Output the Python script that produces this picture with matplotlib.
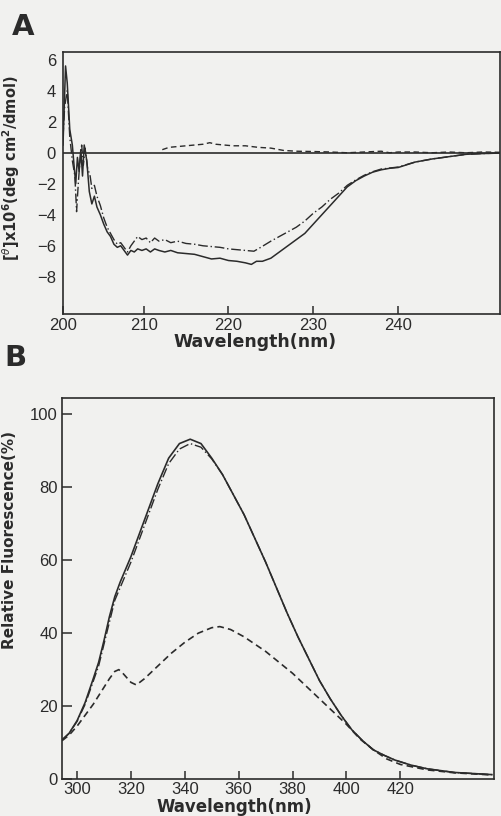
import matplotlib
matplotlib.use('Agg')
import matplotlib.pyplot as plt

# ---- panel A : CD spectra ----
cd_solid_x = [200.5, 200.8, 201.0, 201.3, 201.6, 201.8, 202.0, 202.2, 202.4, 202.6, 202.8, 203.0,
              203.3, 203.6, 203.9, 204.2, 204.5, 204.9, 205.3, 205.7, 206.1, 206.5, 206.9, 207.3,
              207.7, 208.1, 208.5, 208.9, 209.3, 209.8, 210.3, 210.8, 211.3, 211.8, 212.5, 213.2,
              214, 215, 216, 217, 218, 219, 220, 221, 222, 222.7, 223.3, 224, 225, 226, 227, 228,
              229, 230, 231, 232, 233, 234, 235, 236, 237, 238, 239, 240, 242, 244, 246, 248, 250, 252]
cd_solid_y = [0.5, 5.6, 4.5, 1.5, 0.5, -0.8, -2.0, -0.3, -1.2, 0.2, -1.5, 0.5,
              -0.5, -2.5, -3.3, -2.8, -3.5, -4.0, -4.6, -5.1, -5.4, -5.9, -6.1, -6.0,
              -6.3, -6.6, -6.3, -6.4, -6.2, -6.3, -6.2, -6.4, -6.2, -6.3, -6.4, -6.3,
              -6.45, -6.5, -6.55, -6.7, -6.85, -6.8, -6.95, -7.0, -7.1, -7.2, -7.0, -7.0, -6.8, -6.4, -6.0, -5.6,
              -5.2, -4.6, -4.0, -3.4, -2.8, -2.2, -1.8, -1.5, -1.25, -1.1, -1.0, -0.95, -0.6, -0.4, -0.25, -0.1, -0.05, -0.02]

cd_dashdot_x = [200.5, 200.7, 201.0, 201.3, 201.6, 201.9, 202.1, 202.3, 202.5, 202.7, 202.9, 203.1,
                203.4, 203.7, 203.9, 204.2, 204.5, 204.9, 205.3, 205.7, 206.1, 206.5, 206.9, 207.3,
                207.7, 208.1, 208.5, 208.9, 209.3, 209.8, 210.3, 210.8, 211.3, 211.8, 212.5, 213.2,
                214, 215, 216, 217, 218, 219, 220, 221, 222, 223, 223.8, 225, 226, 227, 228,
                229, 230, 231, 232, 233, 234, 235, 236, 237, 238, 240, 242, 244, 246, 248, 250, 252]
cd_dashdot_y = [1.0, 3.0, 4.0, 1.0, -0.5, -1.5, -3.8, -2.0, -0.5, 0.5, -0.8, 0.3,
                -1.0, -1.5, -2.3, -2.1, -2.8, -3.4, -4.2, -4.8, -5.2, -5.6, -5.9, -5.8,
                -6.1, -6.4, -6.0, -5.7, -5.4, -5.6, -5.5, -5.8, -5.5, -5.7, -5.6, -5.8,
                -5.7, -5.85, -5.9, -6.0, -6.05, -6.1, -6.2, -6.25, -6.3, -6.35, -6.1, -5.7, -5.4, -5.1, -4.8,
                -4.4, -3.9, -3.5, -3.0, -2.6, -2.1, -1.75, -1.45, -1.22, -1.05, -0.92, -0.6, -0.4, -0.25, -0.1, -0.05, -0.02]

cd_dashed_x = [212.2, 213, 214, 215, 216, 217, 217.8, 218.5, 219.5, 220.5, 222, 223.5, 225, 226.5,
               228, 230, 232, 234, 236, 238, 239, 240, 242, 244, 246, 248, 250, 252]
cd_dashed_y = [0.2, 0.35, 0.4, 0.45, 0.5, 0.55, 0.65, 0.55, 0.5, 0.45, 0.45, 0.35, 0.3, 0.15,
               0.1, 0.08, 0.05, 0.0, 0.05, 0.1, 0.0, 0.05, 0.05, 0.0, 0.05, 0.0, 0.05, 0.03]

cd_xticks = [200.5, 210, 220, 230, 240]
cd_xticklabels = ['200', '210', '220', '230', '240']
cd_yticks = [6, 4, 2, 0, -2, -4, -6, -8]

# ---- panel B : fluorescence ----
fl_x = [294.4, 297, 300, 303, 306, 308, 310, 312, 314, 316, 320, 325, 330, 334, 338, 342, 346, 350,
        354, 358, 362, 366, 370, 374, 378, 382, 386, 390, 394, 398, 402, 406, 410, 414, 418, 424,
        430, 440, 454]
fl_solid = [10.7, 12.5, 16, 21, 27.5, 32, 38, 44.5, 50, 54, 61, 71, 81, 88, 92, 93.2, 92, 88,
            83.5, 78, 72.5, 66, 59.5, 52.5, 45.5, 39, 33, 27, 22, 17.5, 13.5, 10.5, 8, 6.5, 5.2, 3.8,
            2.8, 1.8, 1.2]
fl_dashdot = [10.7, 12.5, 15.8, 20.5, 26.8, 31, 37, 43, 49, 52.5, 59.5, 69.5, 79.5, 86.5, 90.5, 92, 91, 87.8,
              83.5, 78, 72.5, 66, 59.5, 52.5, 45.5, 39, 33, 27, 22, 17.5, 13.5, 10.5, 8, 6.5, 5.2, 3.8,
              2.8, 1.8, 1.2]

fl_dashed_x = [294.4, 297, 300, 303, 306, 309, 312, 314, 315.5, 317, 320, 322, 325, 330, 335, 340, 345,
               350, 353, 357, 362, 366, 370, 375, 380, 385, 390, 395, 400, 405, 410, 415, 420, 430, 440, 454]
fl_dashed = [10.5, 12, 14.5, 17.5, 20.5, 24, 27.5, 29.5, 30, 29, 26.5, 25.8, 27.5, 31, 34.5, 37.5, 40,
             41.5, 41.8, 41, 39, 37, 35, 32, 29, 25.5, 22, 18.5, 15, 11, 8, 5.5, 4, 2.5, 1.7, 1.1]

fl_xticks = [300, 320, 340, 360, 380, 400, 420]
fl_yticks = [0, 20, 40, 60, 80, 100]

W, H = 501, 816
bg = '#f1f1ef'
ink = '#2b2b2b'
DASHED = (0, (4, 2.5))
DASHDOT = (0, (7, 2, 1, 2))

plt.rcParams['font.family'] = ['Liberation Sans', 'DejaVu Sans']
plt.rcParams['mathtext.fontset'] = 'dejavusans'

fig = plt.figure(figsize=(W / 100, H / 100), dpi=100, facecolor=bg)


def rect(left, top, right, bottom):
    return [left / W, 1 - bottom / H, (right - left) / W, (bottom - top) / H]


def style_axes(ax):
    ax.set_facecolor(bg)
    for sp in ax.spines.values():
        sp.set_color(ink)
        sp.set_linewidth(1.2)
    ax.tick_params(colors=ink, labelsize=12, direction='in', width=1.1)


# panel A
axA = fig.add_axes(rect(63, 52, 500, 314))
style_axes(axA)
axA.plot(cd_solid_x, cd_solid_y, color=ink, lw=1.1)
axA.plot(cd_dashdot_x, cd_dashdot_y, color=ink, lw=1.0, linestyle=DASHDOT)
axA.plot(cd_dashed_x, cd_dashed_y, color=ink, lw=1.0, linestyle=DASHED)
axA.axhline(0, color=ink, lw=1.2)
axA.set_xlim(200.5, 252)
axA.set_ylim(-10.4, 6.5)
axA.set_xticks(cd_xticks)
axA.set_xticklabels(cd_xticklabels)
axA.set_yticks(cd_yticks)
axA.tick_params(axis='x', length=6, pad=3)
axA.tick_params(axis='y', length=0, pad=5)

# panel B
axB = fig.add_axes(rect(62, 398, 494, 779))
style_axes(axB)
axB.plot(fl_x, fl_solid, color=ink, lw=1.2)
axB.plot(fl_x, fl_dashdot, color=ink, lw=1.0, linestyle=DASHDOT)
axB.plot(fl_dashed_x, fl_dashed, color=ink, lw=1.2, linestyle=DASHED)
axB.set_xlim(294.4, 454.8)
axB.set_ylim(0, 104.5)
axB.set_xticks(fl_xticks)
axB.set_yticks(fl_yticks)
axB.tick_params(axis='x', length=6, pad=2)
axB.tick_params(axis='y', length=7, pad=3)

# texts
bold = dict(family='DejaVu Sans', weight='bold', color=ink)
fig.text(23 / W, 1 - 27 / H, 'A', fontsize=21, ha='center', va='center', **bold)
fig.text(15 / W, 1 - 358 / H, 'B', fontsize=21, ha='center', va='center', **bold)
fig.text(255 / W, 1 - 342 / H, 'Wavelength(nm)', fontsize=12.5, ha='center', va='center', **bold)
fig.text(234 / W, 1 - 807 / H, 'Wavelength(nm)', fontsize=12, ha='center', va='center', **bold)
fig.text(11 / W, 1 - 168 / H, r'[$^{\theta}$]x10$^{\mathbf{6}}$(deg cm$^{\mathbf{2}}$/dmol)',
         fontsize=10.5, rotation=90, ha='center', va='center', **bold)
fig.text(10 / W, 1 - 540 / H, 'Relative Fluorescence(%)', fontsize=11, rotation=90,
         ha='center', va='center', **bold)

fig.savefig('out.png', dpi=100, facecolor=bg)
